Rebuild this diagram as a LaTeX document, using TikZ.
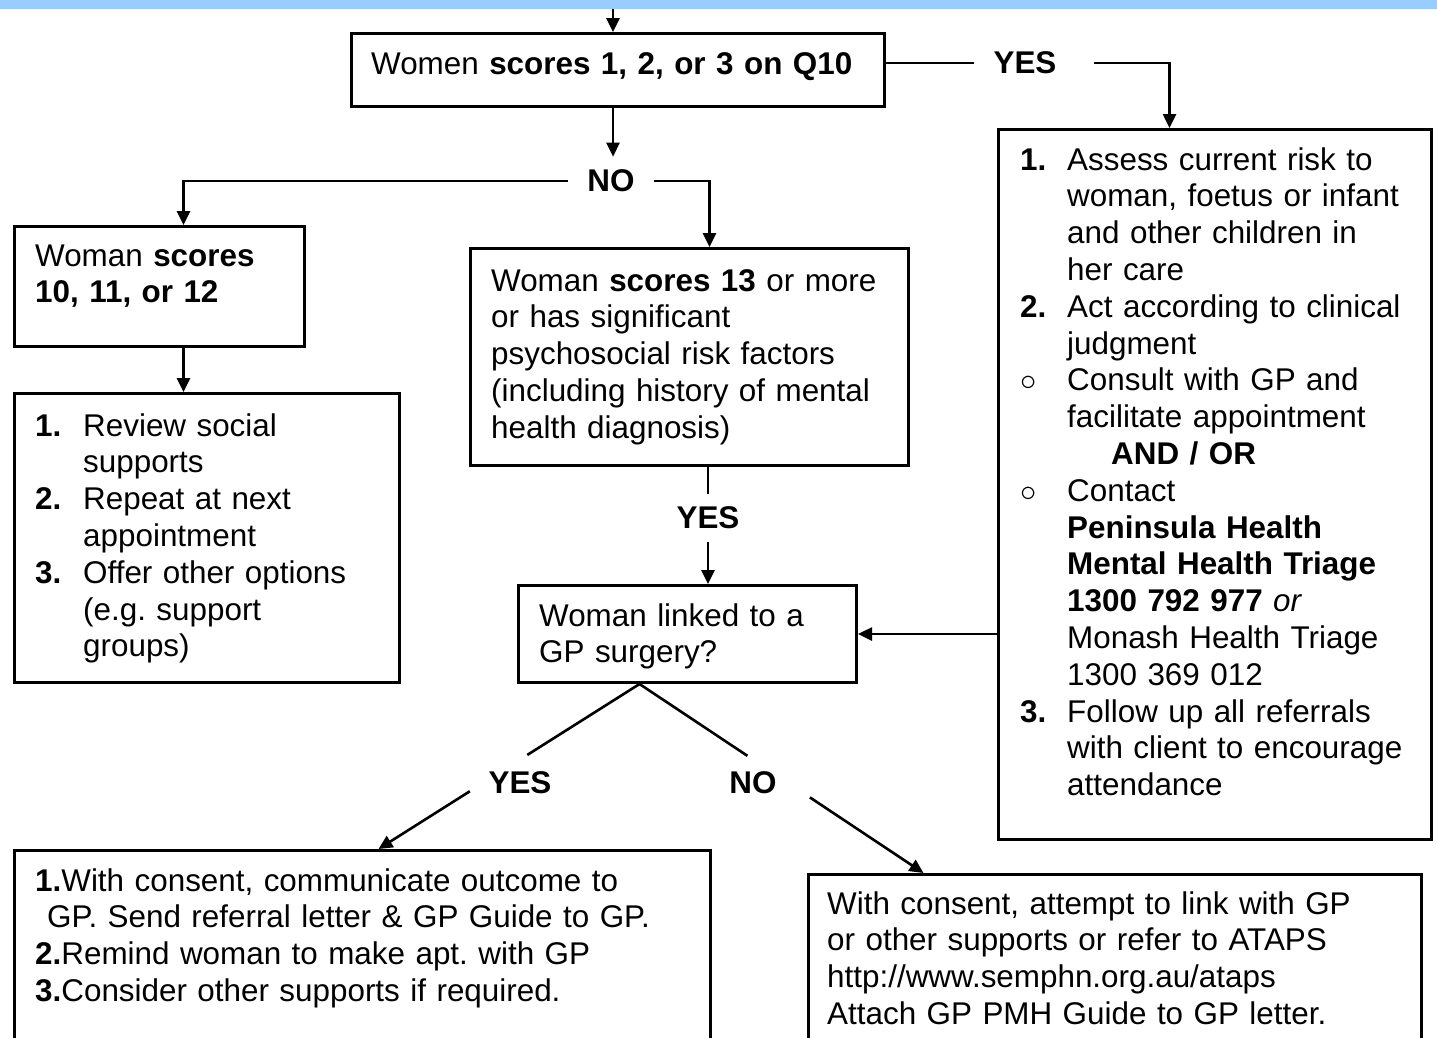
\documentclass[tikz,border=0pt]{standalone}
\usepackage{fontspec}
\setmainfont{Liberation Sans}
\usepackage{tikz}
\usetikzlibrary{arrows.meta, calc}
\definecolor{bandblue}{RGB}{153,204,255}
\frenchspacing
\newcommand{\bodyfont}{\fontsize{31.4pt}{36.8pt}\selectfont}
\newcommand{\numitem}[2][47pt]{\makebox[#1][l]{\textbf{#2}}}
\newcommand{\indentline}[1][47pt]{\hspace*{#1}}
\newcommand{\bulletitem}{\makebox[47pt][l]{\scalebox{1.3}{$\circ$}}}
\tikzset {
    >={Triangle[length=14pt, width=13pt]},
    box/.style={draw, line width=3pt, inner sep=0pt, anchor=north west},
    txt/.style={font=\bodyfont, anchor=base west, inner sep=0pt, text width=720pt, align=left},
    lbl/.style={font=\bodyfont\bfseries, inner xsep=19pt, inner ysep=13pt},
    link/.style={line width=2.6pt}
}

\begin{document}
\begin{tikzpicture}[x=1pt, y=-1pt]
                        \useasboundingbox (0,0) rectangle (1437,1037);
                        \fill[bandblue] (0,0) rectangle (1437,9);

                        \node[box, minimum width=533pt, minimum height=73pt] (q10) at (350,32) {};
                        \node[box, minimum width=290pt, minimum height=120pt] (mild) at (13,225) {};
                        \node[box, minimum width=385pt, minimum height=289pt] (review) at (13,392) {};
                        \node[box, minimum width=438pt, minimum height=217pt] (high) at (469,247) {};
                        \node[box, minimum width=338pt, minimum height=97pt] (gp) at (517,584) {};
                        \node[box, minimum width=433pt, minimum height=710pt] (risk) at (997,128) {};
                        \node[box, minimum width=696pt, minimum height=220pt] (linked) at (13,849) {};
                        \node[box, minimum width=613pt, minimum height=200pt] (nolink) at (807,873) {};

                        \node[txt] (q10t) at (371,74) {Women \textbf{scores 1, 2, or 3 on Q10}};
                        \node[txt] (mildt) at (35,266) {Woman \textbf{scores}\\\textbf{10, 11, or 12}};
                        \node[txt] (reviewt) at (35,436) {\numitem[48pt]{1.}Review social\\
                            \indentline[48pt]supports\\
                            \numitem[48pt]{2.}Repeat at next\\
                            \indentline[48pt]appointment\\
                            \numitem[48pt]{3.}Offer other options\\
                            \indentline[48pt](e.g. support\\
                            \indentline[48pt]groups)};
                        \node[txt] (hight) at (491,291) {Woman \textbf{scores 13} or more\\or has significant\\psychosocial risk factors\\(including history of mental\\health diagnosis)};
                        \node[txt] (gpt) at (539,626) {Woman linked to a\\GP surgery?};
                        \node[txt] (riskt) at (1020,170) {\numitem{1.}Assess current risk to\\
                            \indentline woman, foetus or infant\\
                            \indentline and other children in\\
                            \indentline her care\\
                            \numitem{2.}Act according to clinical\\
                            \indentline judgment\\
                            \bulletitem Consult with GP and\\
                            \indentline facilitate appointment\\
                            \indentline[91pt]\textbf{AND / OR}\\
                            \bulletitem Contact\\
                            \indentline\textbf{Peninsula Health}\\
                            \indentline\textbf{Mental Health Triage}\\
                            \indentline\textbf{1300 792 977} \textit{or}\\
                            \indentline Monash Health Triage\\
                            \indentline 1300 369 012\\
                            \numitem{3.}Follow up all referrals\\
                            \indentline with client to encourage\\
                            \indentline attendance};
                        \node[txt] (linkedt) at (35,891) {\textbf{1.}With consent, communicate outcome to\\
                            \hspace*{12pt}GP. Send referral letter \& GP Guide to GP.\\
                            \textbf{2.}Remind woman to make apt. with GP\\
                            \textbf{3.}Consider other supports if required.};
                        \node[txt] (nolinkt) at (827,914) {With consent, attempt to link with GP\\or other supports or refer to ATAPS\\http://www.semphn.org.au/ataps\\Attach GP PMH Guide to GP letter.};

                        \node[lbl] (yes1) at (1025,63) {YES};
                        \node[lbl] (no1) at (611,181) {NO};
                        \node[lbl] (yes2) at (708,518) {YES};
                        \node[lbl] (yes3) at (520,783) {YES};
                        \node[lbl] (no3) at (753,783) {NO};

                        \coordinate (top) at (613,9);
                        \coordinate (m1) at ([xshift=24pt]mild.south);
                        \coordinate (y1) at ([xshift=18pt]yes1.east);
                        \coordinate (apex) at ([xshift=-48pt]gp.south);
                        \coordinate (tipL) at ([xshift=16pt]linked.north);
                        \coordinate (tipR) at ([xshift=-191.5pt]nolink.north);

                        \draw[link, ->] (top) -- (top |- q10.north);
                        \draw[link, ->] (top |- q10.south) -- (top |- no1.north);
                        \draw[link] (q10.east |- yes1.west) -- (yes1.west);
                        \draw[link, ->] (y1) -| ([xshift=-45.5pt]risk.north);
                        \draw[link, ->] (no1.west) -| ([xshift=24pt]mild.north);
                        \draw[link, ->] (no1.east) -| ([xshift=20pt]high.north);
                        \draw[link, ->] (m1) -- (m1 |- review.north);
                        \draw[link] (yes2.north |- high.south) -- (yes2.north);
                        \draw[link, ->] (yes2.south) -- (yes2.south |- gp.north);
                        \draw[link, ->] (gp.east -| risk.west) -- (gp.east);
                        \draw[link] (apex) -- ($(apex)!0.43!(tipL)$);
                        \draw[link, ->] ($(apex)!0.65!(tipL)$) -- (tipL);
                        \draw[link] (apex) -- ($(apex)!0.38!(tipR)$);
                        \draw[link, ->] ($(apex)!0.6!(tipR)$) -- (tipR);
                    \end{tikzpicture}
\end{document}
